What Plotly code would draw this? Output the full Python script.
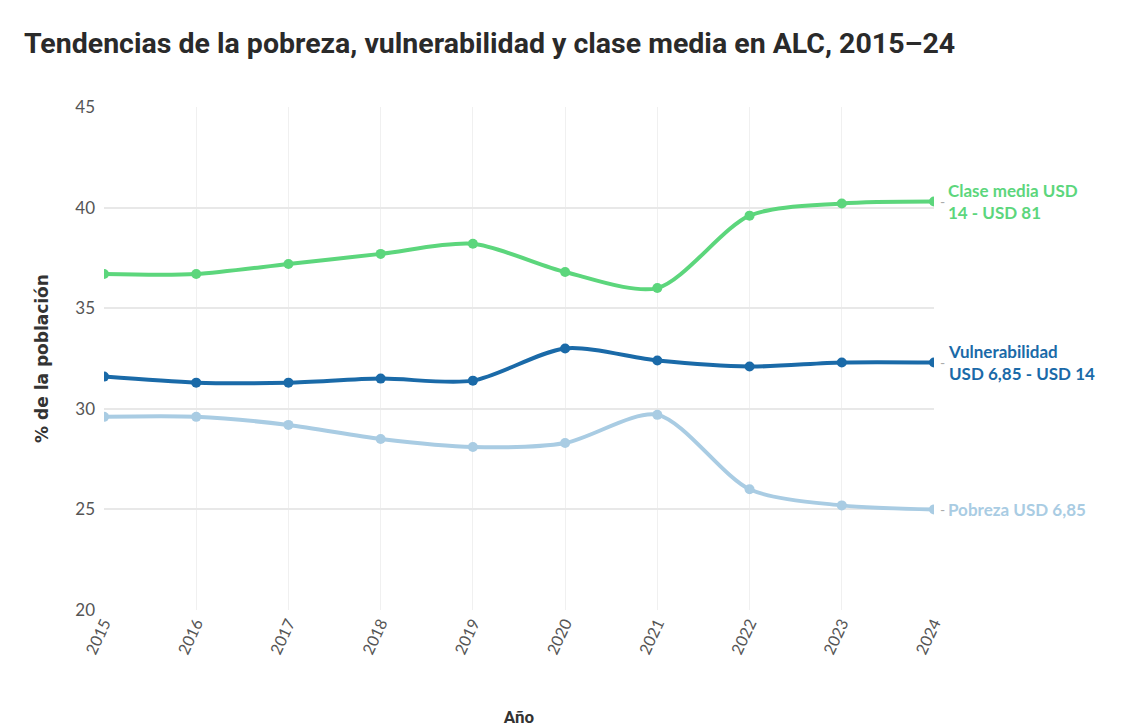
import plotly.graph_objects as go

years = [2015, 2016, 2017, 2018, 2019, 2020, 2021, 2022, 2023, 2024]
clase_media = [36.7, 36.7, 37.2, 37.7, 38.2, 36.8, 36.0, 39.6, 40.2, 40.3]
vulnerabilidad = [31.6, 31.3, 31.3, 31.5, 31.4, 33.0, 32.4, 32.1, 32.3, 32.3]
pobreza = [29.6, 29.6, 29.2, 28.5, 28.1, 28.3, 29.7, 26.0, 25.2, 25.0]

series_names = ["Clase media USD<br>14 - USD 81", "Vulnerabilidad<br>USD 6,85 - USD 14", "Pobreza USD 6,85"]
series_values = [clase_media, vulnerabilidad, pobreza]
series_colors = ["#5cd67c", "#1a6aa8", "#a9cce3"]

title_text = "Tendencias de la pobreza, vulnerabilidad y clase media en ALC, 2015–24"

fig = go.Figure()
for name, vals, col in zip(series_names, series_values, series_colors):
    fig.add_trace(go.Scatter(
        x=years, y=vals, mode="lines+markers",
        line=dict(color=col, width=4, shape="spline", smoothing=0.8),
        marker=dict(color=col, size=10),
        name=name.replace("<br>", " "), showlegend=False,
        hoverinfo="x+y",
    ))
    fig.add_annotation(
        x=years[-1], y=vals[-1], xref="x", yref="y",
        text="-", showarrow=False, xanchor="left", yanchor="middle",
        xshift=4, font=dict(family="Lato", size=14, color="#aaaaaa"),
    )
    fig.add_annotation(
        x=years[-1], y=vals[-1], xref="x", yref="y",
        text="<b>" + name + "</b>", showarrow=False, xanchor="left", yanchor="middle",
        align="left", xshift=12,
        font=dict(family="Lato", size=17, color=col),
    )

fig.update_layout(
    width=1140, height=727,
    paper_bgcolor="white", plot_bgcolor="white",
    margin=dict(l=96, r=214, t=99, b=125),
    title=dict(
        text="<b>" + title_text + "</b>",
        x=0.014, xanchor="left", y=0.952, yanchor="middle",
        font=dict(family="Roboto", size=28.5, color="#2a2a2a"),
    ),
    xaxis=dict(
        tickmode="array", tickvals=years, ticktext=[str(y) for y in years],
        range=[2015, 2024], tickangle=-65,
        showgrid=True, gridcolor="#f0f0f0", gridwidth=1,
        zeroline=False, showline=False,
        tickfont=dict(family="Lato", size=16, color="#555555"),
        title=dict(text="<b>Año</b>", font=dict(family="Roboto", size=17, color="#333333"), standoff=54),
        automargin=False,
    ),
    yaxis=dict(
        range=[20, 45], tickvals=[20, 25, 30, 35, 40, 45],
        showgrid=True, gridcolor="#e8e8e8", gridwidth=1.5,
        zeroline=False, showline=False, ticks="",
        tickfont=dict(family="Lato", size=17, color="#555555"),
        ticklabelstandoff=8,
        title=dict(text="<b>% de la población</b>", font=dict(family="DejaVu Sans", size=17, color="#333333"), standoff=22),
        automargin=False,
    ),
)

fig.write_html("out.html")
